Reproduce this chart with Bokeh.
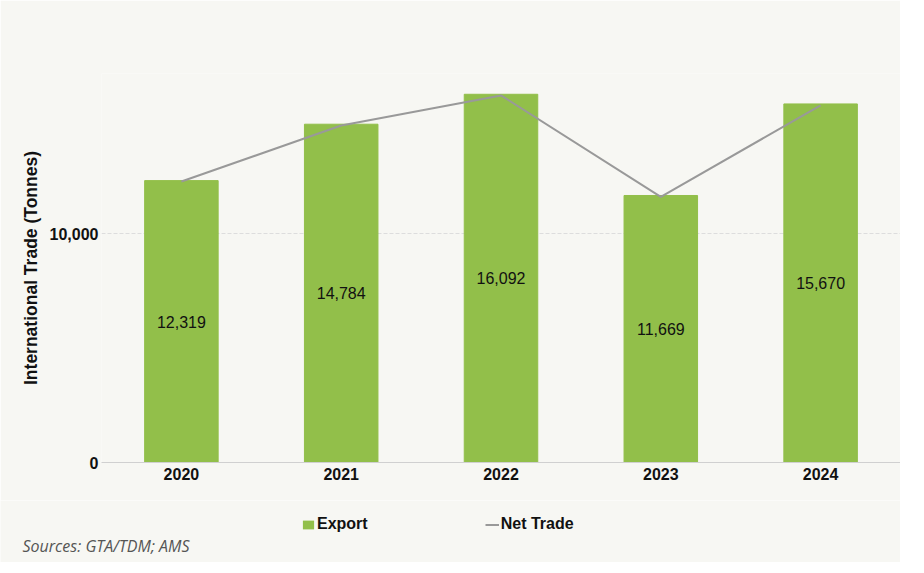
from bokeh.plotting import figure
from bokeh.layouts import column
from bokeh.models import (ColumnDataSource, Legend, LegendItem, Label, FixedTicker,
                          NumeralTickFormatter, Range1d, FactorRange)
from bokeh.core.properties import value
from bokeh.embed import file_html
from bokeh.resources import INLINE

years = ["2020", "2021", "2022", "2023", "2024"]
export = [12319, 14784, 16092, 11669, 15670]
net_trade = [12280, 14725, 16040, 11610, 15610]
export_labels = ["12,319", "14,784", "16,092", "11,669", "15,670"]
y_ticks = [0, 10000]

BG = "#f7f7f3"
GREEN = "#92bf4a"
LINE = "#999999"
FONT = "Liberation Sans"

src = ColumnDataSource(dict(year=years, export=export, net=net_trade,
                            lab=export_labels, mid=[v / 2 for v in export]))

p = figure(x_range=years, y_range=Range1d(0, 17000), width=900, height=500,
           output_backend="svg", toolbar_location=None,
           background_fill_color=BG, border_fill_color=BG,
           min_border_left=101, min_border_right=0, min_border_top=73,
           min_border_bottom=38)
p.outline_line_color = None
p.frame_align = False

p.vbar(x="year", top="export", width=0.46, source=src, color=GREEN)
p.line(x="year", y="net", source=src, line_color=LINE, line_width=2)
p.text(x="year", y="mid", text="lab", source=src, text_align="center",
       text_baseline="middle", text_font=value(FONT), text_font_size="16px",
       text_color="#111111")

p.xgrid.grid_line_color = None
p.ygrid.grid_line_color = "#dddddd"
p.ygrid.grid_line_dash = "4 2"
p.yaxis.ticker = FixedTicker(ticks=y_ticks)
p.yaxis.formatter = NumeralTickFormatter(format="0,0")
p.yaxis.axis_line_color = None
p.yaxis.major_tick_line_color = None
p.yaxis.minor_tick_line_color = None
p.yaxis.major_tick_out = 0
p.yaxis.major_tick_in = 0
p.yaxis.major_label_text_font = FONT
p.yaxis.major_label_text_font_style = "bold"
p.yaxis.major_label_text_font_size = "16px"
p.yaxis.major_label_text_color = "#111111"
p.yaxis.major_label_standoff = 3
p.yaxis.axis_label = "International Trade (Tonnes)"
p.yaxis.axis_label_text_font = FONT
p.yaxis.axis_label_text_font_style = "bold"
p.yaxis.axis_label_text_font_size = "17.5px"
p.yaxis.axis_label_text_color = "#111111"
p.yaxis.axis_label_standoff = 6

p.xaxis.axis_line_color = "#d0d0d0"
p.xaxis.major_tick_line_color = None
p.xaxis.minor_tick_line_color = None
p.xaxis.major_tick_out = 0
p.xaxis.major_tick_in = 0
p.xaxis.major_label_text_font = FONT
p.xaxis.major_label_text_font_style = "bold"
p.xaxis.major_label_text_font_size = "16px"
p.xaxis.major_label_text_color = "#111111"
p.xaxis.major_label_standoff = 5

# footer: legend + source note (legend proxies are zero-height and below the view)
f = figure(width=900, height=62, x_range=FactorRange(*years),
           y_range=Range1d(40000, 50000),
           output_backend="svg", toolbar_location=None,
           background_fill_color=BG, border_fill_color=BG, min_border=0)
f.frame_align = False
f.outline_line_color = None
f.axis.visible = False
f.grid.visible = False
leg_bar = f.vbar(x="year", bottom="export", top="export", width=0.46, source=src,
                 fill_color=GREEN, line_color=None)
leg_line = f.line(x="year", y="net", source=src, line_color=LINE, line_width=2)

legend = Legend(items=[LegendItem(label="Export", renderers=[leg_bar]),
                       LegendItem(label="Net Trade", renderers=[leg_line])],
                orientation="horizontal", location=(301, 29),
                background_fill_alpha=0, border_line_color=None,
                padding=0, margin=0,
                label_text_font=FONT, label_text_font_style="bold",
                label_text_font_size="16px", label_text_color="#111111",
                glyph_width=14, glyph_height=11, label_standoff=2, spacing=117)
f.add_layout(legend, "center")

src_lab = Label(x=22, y=17, x_units="screen", y_units="screen",
                text="Sources: GTA/TDM; AMS", text_font="Open Sans",
                text_font_style="italic", text_font_size="16px",
                text_baseline="middle", text_color="#555555")
f.add_layout(src_lab)

layout = column(p, f, spacing=0)
open("out.html", "w").write(file_html(layout, INLINE))
